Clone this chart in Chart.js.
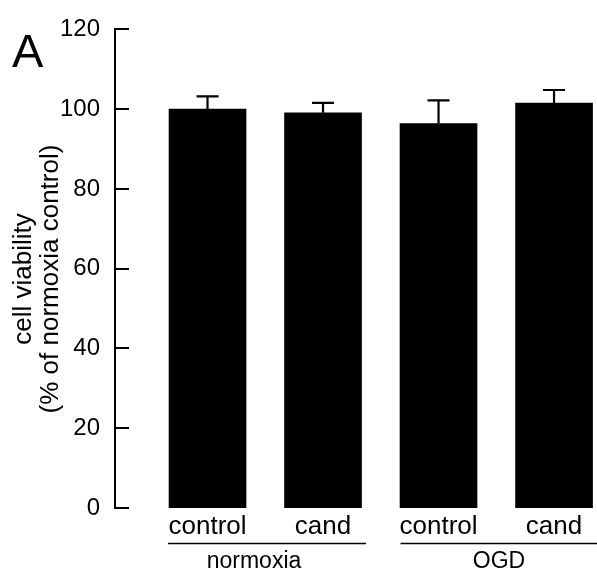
<!DOCTYPE html>
<html>
<head>
<meta charset="utf-8">
<script src="https://cdn.jsdelivr.net/npm/chart.js@4"></script>
<style>
html,body{margin:0;padding:0;background:#fff}
#wrap{width:597px;height:578px;position:relative}
</style>
</head>
<body>
<div id="wrap"><canvas id="c"></canvas></div>
<script>
const categories=['control','cand','control','cand']
const groups=['normoxia','OGD']
const viability=[100.0,99.1,96.4,101.5]
const sem=[3.2,2.5,5.8,3.3]
const panel='A'
const yTitle=['cell viability','(% of normoxia control)']

const FONT='"Liberation Sans", Arial, Helvetica, sans-serif'

const extras={
id:'extras',
afterDraw(chart){
const ctx=chart.ctx,x=chart.scales.x,y=chart.scales.y
const meta=chart.getDatasetMeta(0)
ctx.save()
ctx.strokeStyle='#000'
ctx.fillStyle='#000'
// inward y tick marks
ctx.lineWidth=2
y.ticks.forEach(t=>{
let py=Math.round(y.getPixelForValue(t.value))
ctx.beginPath();ctx.moveTo(115,py);ctx.lineTo(129,py);ctx.stroke()
})
// error bars (upper only)
ctx.lineWidth=2.2
meta.data.forEach((bar,i)=>{
let top=y.getPixelForValue(viability[i]+sem[i])
let base=y.getPixelForValue(viability[i])
ctx.beginPath()
ctx.moveTo(bar.x,base);ctx.lineTo(bar.x,top)
ctx.moveTo(bar.x-11,top);ctx.lineTo(bar.x+11,top)
ctx.stroke()
})
// group lines + labels
ctx.lineWidth=1.6
let gy=543.5
let spans=[[x.getPixelForValue(0)-39.5,x.getPixelForValue(1)+43],[x.getPixelForValue(2)-38,597]]
let centers=[254,499]
ctx.font='23px '+FONT
ctx.textAlign='center'
ctx.textBaseline='alphabetic'
spans.forEach((s,i)=>{
ctx.beginPath();ctx.moveTo(s[0],gy);ctx.lineTo(s[1],gy);ctx.stroke()
ctx.fillText(groups[i],centers[i],568)
})
// y axis title, rotated
ctx.save()
ctx.translate(0,279)
ctx.rotate(-Math.PI/2)
ctx.font='26px '+FONT
ctx.textAlign='center'
ctx.fillText(yTitle[0],0,31)
ctx.fillText(yTitle[1],0,58)
ctx.restore()
// panel letter
ctx.font='47px '+FONT
ctx.textAlign='left'
ctx.fillText(panel,12,67)
ctx.restore()
}
}

const xMin=-0.801,xMax=3.372

new Chart(document.getElementById('c'),{
type:'bar',
data:{
datasets:[{
data:viability.map((v,i)=>({x:i,y:v})),
backgroundColor:'#000',
borderWidth:0,
barThickness:77
}]
},
options:{
responsive:true,
maintainAspectRatio:false,
animation:false,
layout:{padding:{top:23,left:0,right:0,bottom:0}},
plugins:{legend:{display:false},tooltip:{enabled:false}},
scales:{
x:{
type:'linear',
offset:false,
min:xMin,max:xMax,
grid:{display:false,drawTicks:false},
border:{display:false},
afterBuildTicks:s=>{s.ticks=categories.map((_,i)=>({value:i}))},
afterFit:s=>{s.height=70},
ticks:{
autoSkip:false,maxRotation:0,padding:3,
color:'#000',font:{family:FONT,size:26},
callback:v=>categories[v]
}
},
y:{
min:0,max:120,
grid:{display:false,drawTicks:false},
border:{display:true,color:'#000',width:2},
afterFit:s=>{s.width=115},
ticks:{stepSize:20,padding:15,color:'#000',font:{family:FONT,size:24}}
}
}
},
plugins:[extras]
})
</script>
</body>
</html>
